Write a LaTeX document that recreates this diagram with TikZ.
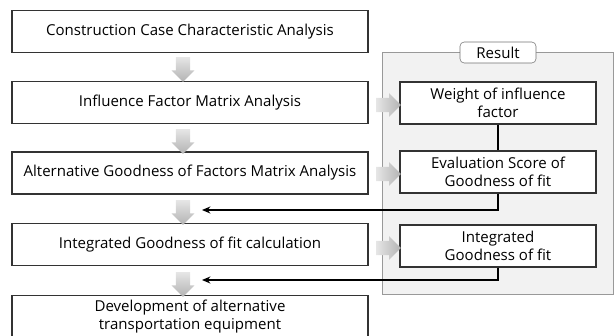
\documentclass[tikz,border=0pt]{standalone}
\usepackage{fontspec}
\setmainfont{Open Sans}
\usetikzlibrary{shapes.arrows, arrows.meta}

\begin{document}
\begin{tikzpicture}[font=\fontsize{10.7}{12.8}\selectfont,
  box/.style={draw=black!80, line width=0.8pt, minimum width=#1,
              minimum height=1.05cm, align=center, fill=white},
  box/.default=8.9cm,
  panel/.style={draw=black!40, line width=0.6pt, fill=black!5,
                minimum width=5.775cm, minimum height=6.05cm},
  tab/.style={draw=black!55, rounded corners=3pt, fill=white,
              minimum width=1.9cm, minimum height=0.525cm, inner sep=0pt},
  fatdown/.style={single arrow, shape border rotate=270, draw=none,
                  inner sep=0.17cm, minimum height=0.62cm,
                  single arrow head extend=0.11cm,
                  top color=black!10, bottom color=black!30},
  fatright/.style={single arrow, draw=none,
                   inner sep=0.17cm, minimum height=0.62cm,
                   single arrow head extend=0.12cm,
                   left color=black!10, right color=black!30},
  ret/.style={-{Stealth[length=6pt,width=5pt]}, line width=0.9pt}
]
  \useasboundingbox (0,0) rectangle (15.4,-8.4);

  % result panel
  \node[panel] (res) at (12.4375,-4.3375) {};
  \node[tab] (restab) at (12.45,-1.3125) {Result};

  % main flow
  \node[box] (cases) at (4.75,-0.7875)
        {Construction Case Characteristic Analysis};
  \node[box] (infl) at (4.75,-2.5625)
        {Influence Factor Matrix Analysis};
  \node[box] (altgood) at (4.75,-4.325)
        {Alternative Goodness of Factors Matrix Analysis};
  \node[box] (integ) at (4.75,-6.1125)
        {Integrated Goodness of fit calculation};
  \node[box] (devel) at (4.75,-7.9125)
        {Development of alternative\\transportation equipment};

  % results
  \node[box=4.9cm] (weight) at (12.45,-2.575)
        {Weight of influence\\factor};
  \node[box=4.9cm] (evalsc) at (12.45,-4.3)
        {Evaluation Score of\\Goodness of fit};
  \node[box=4.9cm] (intfit) at (12.45,-6.15)
        {Integrated\\Goodness of fit};

  % gray arrows
  \node[fatdown] (d1) at (4.575,-1.65) {};
  \node[fatdown] (d2) at (4.575,-3.45) {};
  \node[fatdown] (d3) at (4.575,-5.225) {};
  \node[fatdown] (d4) at (4.575,-7.025) {};
  \node[fatright] (r1) at (9.625,-2.625) {};
  \node[fatright] (r2) at (9.625,-4.35) {};
  \node[fatright] (r3) at (9.625,-6.2) {};

  % feedback
  \coordinate (fb1) at (5.05,-5.25);
  \coordinate (fb2) at (5.05,-7.0);
  \draw[line width=0.9pt] (weight) -- (evalsc);
  \draw[ret] (evalsc.south) |- (fb1);
  \draw[ret] (intfit.south) |- (fb2);
\end{tikzpicture}
\end{document}
